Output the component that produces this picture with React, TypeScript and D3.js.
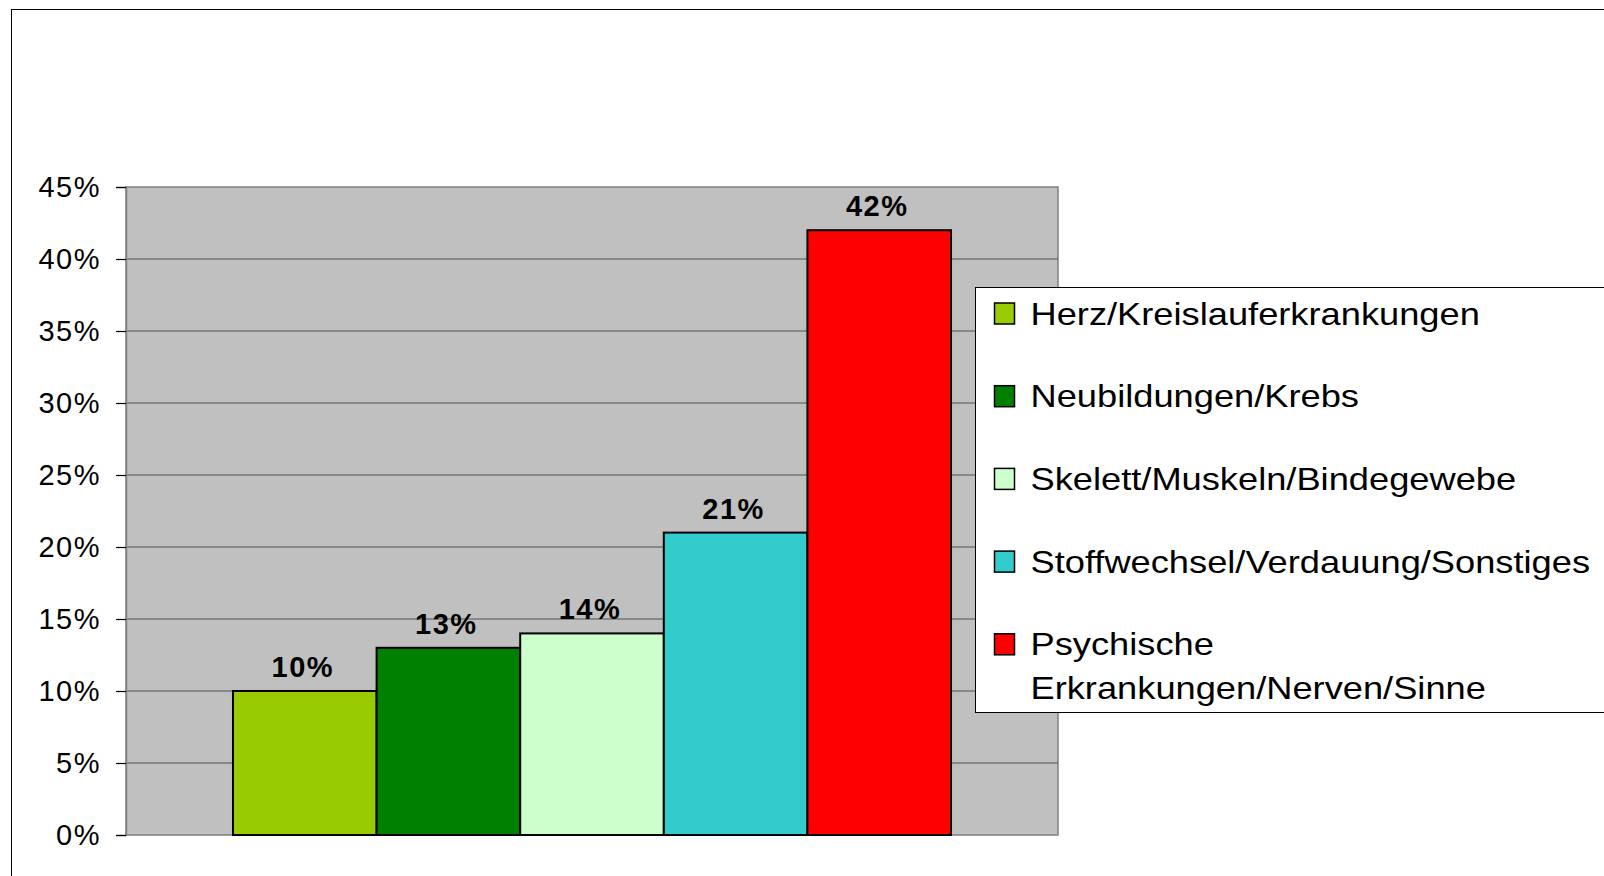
import React, { useEffect, useRef } from 'react';
import * as d3 from 'd3';

// one group, five causes
const groupLabel = ['Alle'];
const seriesNames = [
  'Herz/Kreislauferkrankungen',
  'Neubildungen/Krebs',
  'Skelett/Muskeln/Bindegewebe',
  'Stoffwechsel/Verdauung/Sonstiges',
  'Psychische\nErkrankungen/Nerven/Sinne',
];
const seriesValues = [0.1, 0.13, 0.14, 0.21, 0.42];
const seriesColors = ['#99cc00', '#008000', '#ccffcc', '#33cccc', '#ff0000'];
const yTicks = [0, 0.05, 0.1, 0.15, 0.2, 0.25, 0.3, 0.35, 0.4, 0.45];

const FONT = "'Liberation Sans', Arial, Helvetica, sans-serif";

const App = () => {
  const ref = useRef<SVGSVGElement | null>(null);

  useEffect(() => {
    const width = 1604;
    const height = 876;
    const plot = { left: 126, right: 1058, top: 187, bottom: 835 };

    const svg = d3.select(ref.current);
    svg.selectAll('*').remove();
    svg.attr('width', width).attr('height', height);

    svg.append('rect').attr('width', width).attr('height', height).attr('fill', '#fff');

    // outer frame (runs off the right and bottom edge)
    svg
      .append('rect')
      .attr('x', 11.5)
      .attr('y', 9.5)
      .attr('width', width + 20)
      .attr('height', height + 20)
      .attr('fill', 'none')
      .attr('stroke', '#000')
      .attr('stroke-width', 1);

    const y = d3.scaleLinear().domain([0, 0.45]).range([plot.bottom, plot.top]);
    const x0 = d3
      .scaleBand()
      .domain(groupLabel)
      .range([plot.left, plot.right])
      .paddingInner(0)
      .paddingOuter(0.149);
    const x1 = d3.scaleBand().domain(seriesNames).range([0, x0.bandwidth()]).padding(0);

    // plot background
    svg
      .append('rect')
      .attr('x', plot.left)
      .attr('y', plot.top)
      .attr('width', plot.right - plot.left)
      .attr('height', plot.bottom - plot.top)
      .attr('fill', '#c0c0c0')
      .attr('stroke', '#808080')
      .attr('stroke-width', 1.5);

    // gridlines
    svg
      .selectAll('.grid')
      .data(yTicks.filter((t) => t > 0 && t < 0.45))
      .enter()
      .append('line')
      .attr('x1', plot.left)
      .attr('x2', plot.right)
      .attr('y1', (d) => y(d))
      .attr('y2', (d) => y(d))
      .attr('stroke', '#505050')
      .attr('stroke-width', 1.2);

    // y axis
    const yAxis = d3
      .axisLeft(y)
      .tickValues(yTicks)
      .tickSize(10)
      .tickPadding(15)
      .tickFormat((d) => `${Math.round((d as number) * 100)}%`);

    const ax = svg.append('g').attr('transform', `translate(${plot.left},0)`).call(yAxis);
    ax.select('.domain').attr('stroke', '#808080').attr('stroke-width', 1.5);
    ax.selectAll('.tick line').attr('stroke', '#000').attr('stroke-width', 1.2);
    ax.selectAll('.tick text')
      .attr('fill', '#000')
      .style('font-family', FONT)
      .style('font-size', '29px')
      .style('letter-spacing', '1.5px');

    // bars
    const g = svg.append('g').attr('transform', `translate(${x0(groupLabel[0])},0)`);
    const bars = g
      .selectAll('.bar')
      .data(seriesNames.map((name, i) => ({ name, value: seriesValues[i], color: seriesColors[i] })))
      .enter()
      .append('g');

    bars
      .append('rect')
      .attr('x', (d) => x1(d.name) as number)
      .attr('y', (d) => y(d.value))
      .attr('width', x1.bandwidth())
      .attr('height', (d) => y(0) - y(d.value))
      .attr('fill', (d) => d.color)
      .attr('stroke', '#000')
      .attr('stroke-width', 2);

    bars
      .append('text')
      .attr('x', (d) => (x1(d.name) as number) + x1.bandwidth() / 2 - 2)
      .attr('y', (d) => y(d.value) - 14)
      .attr('text-anchor', 'middle')
      .style('font-family', FONT)
      .style('font-size', '29px')
      .style('font-weight', 'bold')
      .style('letter-spacing', '1.5px')
      .text((d) => `${Math.round(d.value * 100)}%`);

    // legend
    const legendX = 975.5;
    const legendY = 287.5;
    svg
      .append('rect')
      .attr('x', legendX)
      .attr('y', legendY)
      .attr('width', 700)
      .attr('height', 425)
      .attr('fill', '#fff')
      .attr('stroke', '#000')
      .attr('stroke-width', 1);

    const items = svg
      .selectAll('.legend-item')
      .data(seriesNames)
      .enter()
      .append('g')
      .attr('transform', (_, i) => `translate(${legendX},${legendY + 37 + i * 82.7})`);

    items
      .append('rect')
      .attr('x', 19)
      .attr('y', -21.5)
      .attr('width', 20)
      .attr('height', 21)
      .attr('fill', (_, i) => seriesColors[i])
      .attr('stroke', '#000')
      .attr('stroke-width', 1.5);

    items
      .append('text')
      .attr('transform', 'translate(55,0) scale(1.17,1)')
      .style('font-family', FONT)
      .style('font-size', '31px')
      .attr('fill', '#000')
      .each(function (d) {
        d3.select(this)
          .selectAll('tspan')
          .data(d.split('\n'))
          .enter()
          .append('tspan')
          .attr('x', 0)
          .attr('y', (_, j) => j * 44)
          .text((t) => t);
      });
  }, []);

  return <svg ref={ref} style={{ position: 'absolute', left: 0, top: 0, display: 'block' }} />;
};

export default App;
